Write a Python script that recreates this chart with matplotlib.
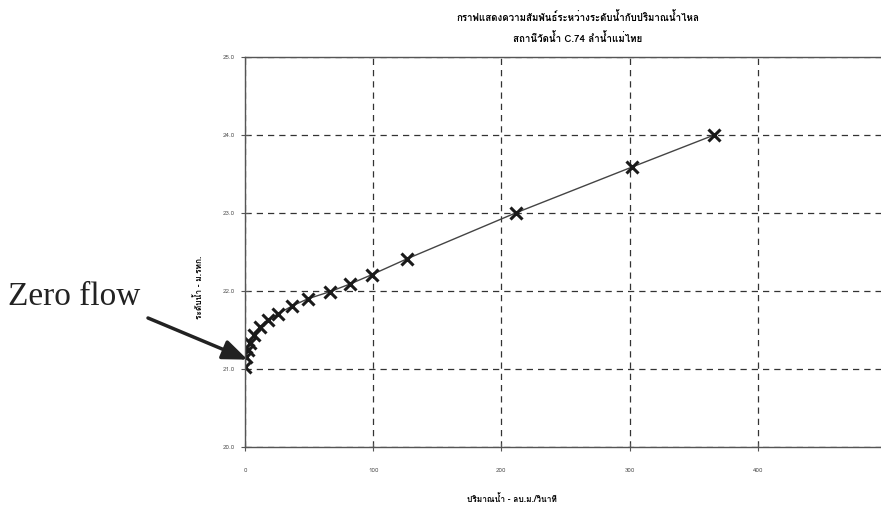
import numpy as np
import matplotlib.pyplot as plt
from matplotlib import font_manager

# Discharge (m3/s) and water level
discharge = [0.0, 0.8, 2.3, 3.9, 7.0, 11.7, 18.0, 26.0, 37.0, 49.0,
             66.0, 82.0, 99.0, 126.0, 211.0, 302.0, 366.0]
stage = [21.03, 21.15, 21.24, 21.33, 21.44, 21.54, 21.63, 21.71, 21.81, 21.90,
         21.99, 22.09, 22.21, 22.41, 23.00, 23.59, 24.00]

x_ticks = [0, 100, 200, 300, 400]
y_ticks = [20.0, 21.0, 22.0, 23.0, 24.0, 25.0]

title_lines = ["กราฟแสดงความสัมพันธ์ระหว่างระดับน้ำกับปริมาณน้ำไหล",
               "สถานีวัดน้ำ C.74 ลำน้ำแม่ไทย"]
x_label = "ปริมาณน้ำ - ลบ.ม./วินาที"
y_label = "ระดับน้ำ - ม.รทก."

# pick any installed font that has Thai glyphs
thai_fonts = []
for f in font_manager.fontManager.ttflist:
    if "thai" in f.name.lower() or "loma" in f.name.lower() or "garuda" in f.name.lower():
        thai_fonts.append(f.name)
fams = list(dict.fromkeys(thai_fonts)) + ["DejaVu Sans"]
plt.rcParams["font.family"] = fams

fig = plt.figure(figsize=(8.81, 5.09), dpi=100)
ax = fig.add_axes([245 / 881, 62 / 509, 641 / 881, 390 / 509])

ax.plot(discharge, stage, color="#444444", lw=1.0, marker="x",
        markersize=9, markeredgewidth=2.2, markeredgecolor="#1a1a1a")

ax.set_xlim(0, 500)
ax.set_ylim(20.0, 25.0)
ax.set_xticks(x_ticks)
ax.set_yticks(y_ticks)
ax.set_xticklabels([str(v) for v in x_ticks], fontsize=4.5, color="#333333")
ax.set_yticklabels(["%.1f" % v for v in y_ticks], fontsize=4.5, color="#333333")
ax.tick_params(direction="inout", length=6, width=0.8, pad=12, colors="#555555")
ax.tick_params(axis="y", pad=4)
ax.grid(True, ls=(0, (5, 4)), color="#333333", lw=0.9)

for s in ["left", "bottom", "top"]:
    ax.spines[s].set_color("#555555")
    ax.spines[s].set_linewidth(1.0)
ax.spines["right"].set_visible(False)

ax.set_xlabel(x_label, fontsize=6, fontweight="bold")
ax.set_ylabel(y_label, fontsize=6, fontweight="bold")
# label positions in the scan are not centred on the axes
ax.xaxis.set_label_coords((512 - 245) / 641, -(494 - 447) / 390)
ax.yaxis.set_label_coords(-(245 - 204) / 641, (447 - 287) / 390)

fig.text(578 / 881, 1 - 18 / 509, title_lines[0], ha="center", va="center",
         fontsize=7, fontweight="bold")
fig.text(578 / 881, 1 - 38 / 509, title_lines[1], ha="center", va="center",
         fontsize=7, fontweight="bold")

fig.text(8 / 881, 1 - 297 / 509, "Zero flow", fontsize=24,
         family=["Liberation Serif"], color="#222222", ha="left", va="center")
ax.annotate("", xy=(2.0, 21.12), xycoords="data",
            xytext=(148, 509 - 318), textcoords="figure pixels",
            annotation_clip=False,
            arrowprops=dict(arrowstyle="-|>,head_length=1.5,head_width=0.6",
                            color="#222222", lw=2.5, shrinkA=0, shrinkB=0))

fig.savefig("out.png", dpi=100)
